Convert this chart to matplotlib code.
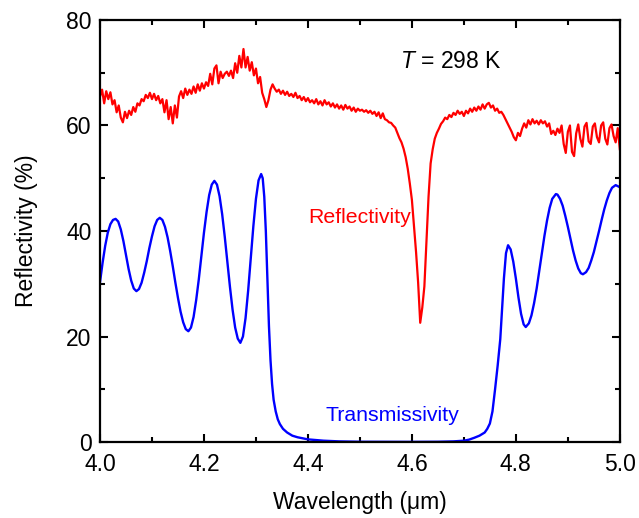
import numpy as np
import matplotlib
matplotlib.use("Agg")
from matplotlib import pyplot as plt
from matplotlib.ticker import MultipleLocator, FormatStrFormatter

plt.rcParams['font.family'] = ['Liberation Sans', 'DejaVu Sans']
plt.rcParams['mathtext.fontset'] = 'custom'
plt.rcParams['mathtext.rm'] = 'Liberation Sans'
plt.rcParams['mathtext.it'] = 'Liberation Sans:italic'

# reflectivity spectrum, sampled every 0.004 um from 4.0 to 5.0
refl = [
    65.5, 66.8, 64.2, 66.5, 65.0, 66.3, 64.0, 64.8, 62.5, 63.8,
    61.5, 60.6, 62.6, 61.4, 62.8, 62.0, 63.5, 62.6, 64.2, 63.8,
    65.0, 64.6, 65.8, 65.2, 66.2, 65.0, 66.0, 64.8, 65.6, 64.2,
    65.0, 62.5, 64.8, 61.2, 63.5, 60.4, 63.8, 61.5, 65.5, 66.5,
    65.2, 67.0, 65.8, 66.8, 66.0, 67.4, 66.2, 67.8, 66.6, 68.0,
    67.0, 68.2, 67.5, 69.8, 67.8, 70.8, 71.4, 68.0, 70.2, 69.0,
    69.8, 70.2, 69.4, 70.4, 69.0, 71.8, 70.0, 73.2, 71.0, 74.5,
    71.0, 73.0, 70.4, 72.0, 69.5, 70.8, 68.0, 69.2, 66.2, 65.0,
    63.5, 64.8, 66.8, 67.8, 67.0, 66.4, 66.8, 66.0, 66.6, 65.8,
    66.4, 65.6, 66.0, 65.4, 66.2, 65.2, 65.6, 64.8, 65.4, 64.6,
    65.2, 64.4, 64.8, 64.2, 65.0, 64.0, 64.6, 63.8, 64.8, 64.0,
    64.4, 63.6, 64.2, 63.4, 64.0, 63.2, 63.8, 63.0, 63.9, 63.2,
    63.6, 62.8, 63.4, 62.6, 63.2, 62.8, 63.0, 62.6, 62.9, 62.4,
    62.8, 62.2, 62.6, 61.8, 62.5, 61.4, 62.3, 61.2, 61.0, 60.6,
    60.5, 60.0, 59.6, 58.6, 57.6, 56.8, 55.6, 54.0, 51.8, 49.0,
    45.9, 41.0, 36.0, 30.2, 22.6, 25.5, 29.5, 38.0, 46.5, 52.8,
    55.5, 57.5, 58.6, 59.4, 60.3, 60.8, 61.5, 61.2, 62.0, 61.6,
    62.4, 62.0, 62.8, 62.2, 62.6, 61.8, 62.8, 62.3, 63.2, 62.6,
    63.4, 62.8, 63.6, 63.0, 64.0, 63.2, 64.0, 64.3, 63.4, 63.8,
    62.8, 63.2, 62.4, 62.6, 62.0, 61.2, 60.4, 59.6, 58.8, 57.8,
    57.2, 58.6, 58.0, 59.4, 60.4, 59.6, 61.0, 60.2, 61.2, 60.4,
    60.9, 60.2, 61.0, 60.4, 60.8, 59.8, 60.4, 58.4, 59.0, 58.2,
    59.4, 58.6, 60.0, 56.5, 54.8, 58.8, 60.0, 55.0, 54.2, 58.5,
    60.2, 57.5, 56.0, 59.8, 60.5, 57.0, 56.5, 59.8, 60.4, 57.8,
    56.8, 60.0, 60.6, 57.5, 56.4, 59.5, 60.2, 58.0, 56.8, 59.5,
    55.5,
]
wl_refl = np.linspace(4.0, 5.0, len(refl))

# transmissivity spectrum
wl_trans = [
    4.000, 4.005, 4.010, 4.015, 4.020, 4.025, 4.030, 4.035, 4.040, 4.045,
    4.050, 4.055, 4.060, 4.065, 4.070, 4.075, 4.080, 4.085, 4.090, 4.095,
    4.100, 4.105, 4.110, 4.115, 4.120, 4.125, 4.130, 4.135, 4.140, 4.145,
    4.150, 4.155, 4.160, 4.165, 4.170, 4.175, 4.180, 4.185, 4.190, 4.195,
    4.200, 4.205, 4.210, 4.215, 4.220, 4.225, 4.230, 4.235, 4.240, 4.245,
    4.250, 4.255, 4.260, 4.265, 4.270, 4.275, 4.280, 4.285, 4.290, 4.295,
    4.300, 4.305, 4.310, 4.313, 4.316, 4.319, 4.322, 4.325, 4.328, 4.331,
    4.334, 4.338, 4.342, 4.346, 4.352, 4.360, 4.370, 4.380, 4.400, 4.430,
    4.460, 4.500, 4.550, 4.600, 4.650, 4.680, 4.700, 4.710, 4.720, 4.730,
    4.740, 4.745, 4.750, 4.755, 4.760, 4.765, 4.770, 4.773, 4.777, 4.781,
    4.785, 4.790, 4.795, 4.800, 4.805, 4.810, 4.815, 4.819, 4.825, 4.830,
    4.835, 4.840, 4.845, 4.850, 4.855, 4.860, 4.865, 4.870, 4.877, 4.880,
    4.885, 4.890, 4.895, 4.900, 4.905, 4.910, 4.915, 4.920, 4.925, 4.929,
    4.935, 4.940, 4.945, 4.950, 4.955, 4.960, 4.965, 4.970, 4.975, 4.980,
    4.985, 4.992, 5.000,
]
trans = [
    30.3, 34.0, 37.2, 39.7, 41.3, 42.1, 42.3, 41.8, 40.3, 38.1,
    35.5, 32.8, 30.6, 29.1, 28.6, 29.0, 30.2, 32.1, 34.3, 36.8,
    39.0, 40.9, 42.1, 42.5, 42.1, 40.8, 38.8, 36.2, 33.3, 30.2,
    27.3, 24.7, 22.7, 21.4, 21.0, 21.7, 23.7, 26.9, 30.8, 35.3,
    39.7, 43.6, 46.8, 48.8, 49.5, 48.8, 46.6, 43.2, 38.9, 34.2,
    29.4, 25.1, 21.7, 19.6, 18.8, 20.0, 23.5, 28.7, 34.8, 40.9,
    46.1, 49.6, 50.8, 50.0, 46.5, 40.0, 31.0, 22.0, 15.5, 11.0,
    8.0, 5.8, 4.3, 3.4, 2.5, 1.8, 1.2, 0.9, 0.5, 0.25,
    0.12, 0.05, 0.03, 0.03, 0.05, 0.12, 0.25, 0.45, 0.8, 1.2,
    1.8, 2.5, 3.5, 5.8, 10.0, 14.5, 19.5, 24.5, 31.0, 35.8,
    37.3, 36.5, 34.2, 31.0, 27.4, 24.3, 22.3, 21.8, 22.5, 24.0,
    26.3, 29.1, 32.4, 35.8, 39.1, 42.0, 44.4, 46.1, 47.0, 46.9,
    46.1, 44.8, 42.9, 40.8, 38.5, 36.3, 34.4, 32.9, 32.0, 31.8,
    32.2, 33.0, 34.4, 36.0, 38.0, 40.0, 42.1, 44.1, 45.8, 47.2,
    48.2, 48.7, 48.3,
]

fig = plt.figure(figsize=(6.39, 5.18), dpi=100)
ax = fig.add_axes([0.1565, 0.1467, 0.8135, 0.8147])

ax.plot(wl_refl, refl, color='#ff0000', lw=1.6)
ax.plot(wl_trans, trans, color='#0000ff', lw=1.7)

ax.set_xlim(4.0, 5.0)
ax.set_ylim(0, 80)
ax.xaxis.set_major_locator(MultipleLocator(0.2))
ax.xaxis.set_minor_locator(MultipleLocator(0.1))
ax.yaxis.set_major_locator(MultipleLocator(20))
ax.yaxis.set_minor_locator(MultipleLocator(10))
ax.xaxis.set_major_formatter(FormatStrFormatter('%.1f'))

ax.tick_params(which='both', direction='in', top=True, right=True,
               width=1.5, labelsize=16.5)
ax.tick_params(axis='x', which='major', pad=8)
ax.tick_params(axis='y', which='major', pad=6)
ax.tick_params(which='major', length=6)
ax.tick_params(which='minor', length=3.5)
for s in ax.spines.values():
    s.set_linewidth(1.6)

ax.set_xlabel('Wavelength (μm)', fontsize=16.5, labelpad=11)
ax.set_ylabel('Reflectivity (%)', fontsize=16.5, labelpad=20)

ax.text(4.4, 42.6, 'Reflectivity', color='#ff0000', fontsize=15.3,
        ha='left', va='center')
ax.text(4.433, 5.1, 'Transmissivity', color='#0000ff', fontsize=15.3,
        ha='left', va='center')
ax.text(4.577, 72.2, '$T$ = 298 K', color='black', fontsize=16.5,
        ha='left', va='center')

fig.savefig('out.png', dpi=100)
